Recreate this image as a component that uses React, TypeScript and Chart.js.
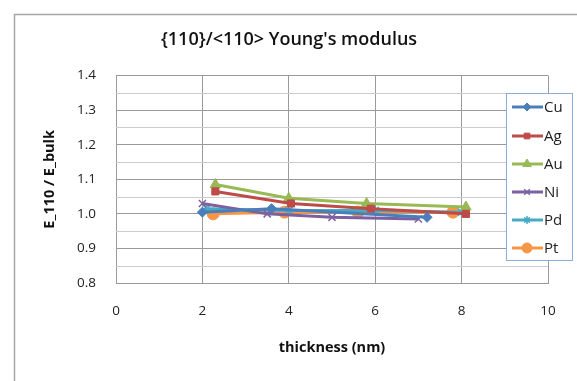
import React, { useEffect, useRef } from "react";
import { Chart, registerables } from "chart.js";
import { drawPoint } from "chart.js/helpers";

Chart.register(...registerables);

const seriesNames = ["Cu", "Ag", "Au", "Ni", "Pd", "Pt"];
const cuX = [2.0, 3.6, 7.2];
const cuY = [1.005, 1.015, 0.99];
const agX = [2.3, 4.05, 5.9, 8.1];
const agY = [1.065, 1.03, 1.015, 1.0];
const auX = [2.3, 4.0, 5.8, 8.1];
const auY = [1.085, 1.045, 1.03, 1.02];
const niX = [2.0, 3.5, 5.0, 7.0];
const niY = [1.03, 1.0, 0.99, 0.985];
const pdX = [2.1, 4.0, 6.0, 8.0];
const pdY = [1.015, 1.01, 1.01, 1.005];
const ptX = [2.25, 3.9, 5.6, 7.8];
const ptY = [1.0, 1.005, 1.005, 1.005];

const xTicks = [0, 2, 4, 6, 8, 10];
const yTicks = [0.8, 0.9, 1.0, 1.1, 1.2, 1.3, 1.4];
const yMinorGrid = [0.85, 0.95, 1.05, 1.15, 1.25, 1.35];

const colors = ["#4a7ebb", "#be4b48", "#98b954", "#7d60a0", "#46aac5", "#f79646"];
const styles = ["rectRot", "rect", "triangle", "crossRot", "star", "circle"];
const radii = [5, 5, 6, 5, 5, 6];

const FONT = "'Open Sans', 'Liberation Sans', sans-serif";

export default function App() {
  const ref = useRef<HTMLCanvasElement | null>(null);
  useEffect(() => {
    const xs = [cuX, agX, auX, niX, pdX, ptX];
    const ys = [cuY, agY, auY, niY, pdY, ptY];
    const datasets = seriesNames.map((n, i) => ({
      label: n,
      data: xs[i].map((x, j) => ({ x, y: ys[i][j] })),
      borderColor: colors[i],
      backgroundColor: colors[i],
      borderWidth: 3,
      pointStyle: styles[i] as any,
      pointRadius: radii[i],
      pointBorderWidth: i === 3 || i === 4 ? 1.5 : 1,
      pointBorderColor: colors[i],
      pointBackgroundColor: colors[i],
      showLine: true,
      tension: 0,
    }));

    const framePlugin = {
      id: "frame",
      beforeDraw(chart: any) {
        const ctx = chart.ctx;
        ctx.save();
        ctx.fillStyle = "#fff";
        ctx.fillRect(0, 0, chart.width, chart.height);
        ctx.strokeStyle = "#a6a6a6";
        ctx.lineWidth = 1.5;
        ctx.beginPath();
        ctx.moveTo(14.5, chart.height);
        ctx.lineTo(14.5, 14.5);
        ctx.lineTo(chart.width, 14.5);
        ctx.stroke();
        ctx.restore();
      },
      beforeDatasetsDraw(chart: any) {
        const ctx = chart.ctx;
        const { left, right } = chart.chartArea;
        const ys = chart.scales.y;
        ctx.save();
        ctx.strokeStyle = "#cccccc";
        ctx.lineWidth = 1;
        yMinorGrid.forEach((v) => {
          const py = Math.round(ys.getPixelForValue(v)) + 0.5;
          ctx.beginPath();
          ctx.moveTo(left, py);
          ctx.lineTo(right, py);
          ctx.stroke();
        });
        ctx.restore();
      },
    };

    const legendPlugin = {
      id: "customLegend",
      afterDraw(chart: any) {
        const ctx = chart.ctx;
        const bx = 506, by = 93, bw = 66, bh = 167;
        ctx.save();
        ctx.fillStyle = "#fff";
        ctx.fillRect(bx, by, bw, bh);
        ctx.strokeStyle = "#8eaad6";
        ctx.lineWidth = 1;
        ctx.strokeRect(bx + 0.5, by + 0.5, bw, bh);
        const rowYs = [107, 136, 164, 192, 220, 248];
        chart.data.datasets.forEach((ds: any, i: number) => {
          const y = rowYs[i];
          ctx.strokeStyle = ds.borderColor;
          ctx.lineWidth = 3;
          ctx.beginPath();
          ctx.moveTo(512, y);
          ctx.lineTo(543, y);
          ctx.stroke();
          ctx.fillStyle = ds.pointBackgroundColor;
          ctx.strokeStyle = ds.pointBorderColor;
          ctx.lineWidth = ds.pointBorderWidth;
          drawPoint(ctx, { pointStyle: ds.pointStyle, radius: ds.pointRadius - 1, borderWidth: ds.pointBorderWidth, rotation: 0 } as any, 527, y);
          ctx.fillStyle = "#222";
          ctx.font = `15px ${FONT}`;
          ctx.textBaseline = "middle";
          ctx.textAlign = "left";
          ctx.fillText(ds.label, 544, y + 1);
        });
        ctx.restore();
      },
    };

    const chart = new Chart(ref.current as HTMLCanvasElement, {
      type: "scatter",
      data: { datasets: datasets as any },
      plugins: [framePlugin, legendPlugin],
      options: {
        responsive: false,
        animation: false,
        layout: { padding: { left: 30, right: 29, top: 0, bottom: 0 } },
        plugins: {
          legend: { display: false },
          tooltip: { enabled: false },
          title: {
            display: true,
            text: "{110}/<110> Young's modulus",
            color: "#111",
            font: { family: FONT, size: 18, weight: 600 },
            padding: { top: 29, bottom: 25 },
          },
        },
        scales: {
          x: {
            type: "linear",
            min: 0,
            max: 10,
            afterBuildTicks: (s: any) => { s.ticks = xTicks.map((v) => ({ value: v })); },
            afterFit: (s: any) => { s.height = 98; },
            ticks: { color: "#222", font: { family: FONT, size: 13.5 }, padding: 20, maxRotation: 0, autoSkip: false },
            grid: { color: "#9a9a9a", lineWidth: 1, tickLength: 5, drawTicks: false },
            border: { display: true, color: "#9a9a9a", width: 1 },
            title: {
              display: true,
              text: "thickness (nm)",
              color: "#111",
              font: { family: FONT, size: 14.5, weight: "bold" },
              padding: { top: 0, bottom: 24 },
            },
          },
          y: {
            type: "linear",
            min: 0.8,
            max: 1.4,
            afterBuildTicks: (s: any) => { s.ticks = yTicks.map((v) => ({ value: v })); },
            afterFit: (s: any) => { s.width = 86; },
            ticks: {
              color: "#222",
              font: { family: FONT, size: 13.5 },
              padding: 20,
              autoSkip: false,
              callback: (v: any) => Number(v).toFixed(1),
            },
            grid: { color: "#9a9a9a", lineWidth: 1, tickLength: 5, drawTicks: false },
            border: { display: true, color: "#9a9a9a", width: 1 },
            title: {
              display: true,
              text: "E_110 / E_bulk",
              color: "#111",
              font: { family: FONT, size: 14.5, weight: "bold" },
              padding: { top: 11, bottom: 0 },
            },
          },
        },
      },
    });
    return () => chart.destroy();
  }, []);

  return (
    <div style={{ position: "fixed", left: 0, top: 0, width: 577, height: 381, background: "#fff" }}>
      <canvas ref={ref} width={577} height={381} style={{ display: "block" }} />
    </div>
  );
}
